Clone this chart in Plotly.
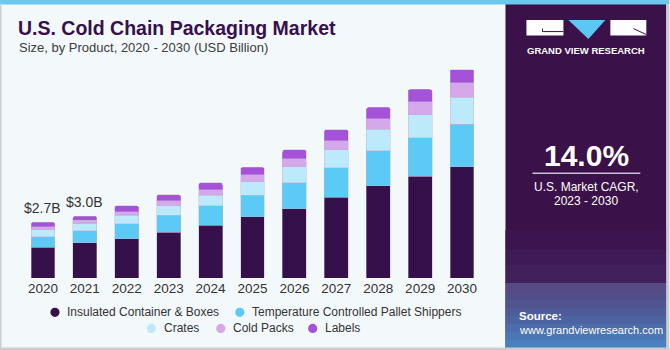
import plotly.graph_objects as go

# ---------------- data ----------------
years = ["2020", "2021", "2022", "2023", "2024", "2025", "2026", "2027", "2028", "2029", "2030"]
insulated = [1.50, 1.70, 1.91, 2.22, 2.56, 2.98, 3.36, 3.92, 4.47, 4.94, 5.40]
pallet = [0.51, 0.58, 0.73, 0.81, 0.94, 1.02, 1.25, 1.42, 1.70, 1.86, 2.06]
crates = [0.32, 0.34, 0.39, 0.46, 0.50, 0.67, 0.78, 0.87, 1.03, 1.12, 1.31]
cold_packs = [0.15, 0.18, 0.19, 0.26, 0.28, 0.34, 0.40, 0.45, 0.52, 0.62, 0.68]
labels = [0.22, 0.20, 0.28, 0.28, 0.33, 0.35, 0.42, 0.53, 0.55, 0.60, 0.65]
series_names = ["Insulated Container & Boxes", "Temperature Controlled Pallet Shippers",
                "Crates", "Cold Packs", "Labels"]
label_years = ["2020", "2021"]
label_texts = ["&#36;2.7B", "&#36;3.0B"]
cagr_text = "14.0%"

# ---------------- style ----------------
colors = ["#36104A", "#5BCBF5", "#BDEAFA", "#D5A8EC", "#A551D8"]
BG = "#F3F8FB"
PANEL = "#3A1148"
W, H = 670, 350
ml, mr, mt, mb = 22, 186.5, 51.4, 72
pw, ph = W - ml - mr, H - mt - mb
FONT = "Liberation Sans, Arial, sans-serif"


def PX(x):
    return (x - ml) / pw


def PY(y):
    return (H - mb - y) / ph


fig = go.Figure()
series = [insulated, pallet, crates, cold_packs, labels]
for name, vals, col in zip(series_names, series, colors):
    fig.add_trace(go.Bar(
        x=years, y=vals, name=name, marker_color=col,
        marker_line=dict(color="rgba(190,180,210,0.55)", width=0.8),
        showlegend=False, hoverinfo="x+y+name",
    ))

totals = [sum(s[i] for s in series) for i in range(len(years))]

annotations = []
for yr, txt in zip(label_years, label_texts):
    i = years.index(yr)
    annotations.append(dict(x=i, y=totals[i], xref="x", yref="y", text=txt,
                            showarrow=False, yanchor="bottom", yshift=4,
                            font=dict(family=FONT, size=14, color="#333333")))

shapes = []
# right panel
shapes.append(dict(type="rect", xref="paper", yref="paper", x0=PX(506), x1=PX(667),
                   y0=PY(0), y1=PY(350), fillcolor=PANEL, line_width=0, layer="below"))
# panel bottom gradient
grad = [
    (230, 250, "#3B1450"), (250, 265, "#3E1A56"), (265, 283, "#42205C"),
    (283, 292, "#564A84"), (292, 300, "#524E8C"), (300, 308, "#505592"),
    (308, 316, "#4E5C9A"), (316, 324, "#4D64A2"), (324, 332, "#4C6DAB"),
    (332, 340, "#4B77B5"), (340, 348, "#4B80BE"),
]
for y0, y1, c in grad:
    shapes.append(dict(type="rect", xref="paper", yref="paper", x0=PX(506), x1=PX(667),
                       y0=PY(y1), y1=PY(y0), fillcolor=c, line_width=0, layer="below"))
# top stripe
shapes.append(dict(type="rect", xref="paper", yref="paper", x0=PX(0), x1=PX(670),
                   y0=PY(5), y1=PY(0), fillcolor="#6CC8EE", line_width=0, layer="below"))
# frame borders
shapes.append(dict(type="rect", xref="paper", yref="paper", x0=PX(0), x1=PX(1.5),
                   y0=PY(350), y1=PY(5), fillcolor="#C9CDD2", line_width=0, layer="below"))
shapes.append(dict(type="rect", xref="paper", yref="paper", x0=PX(667), x1=PX(670),
                   y0=PY(350), y1=PY(5), fillcolor="#C9CDD2", line_width=0, layer="below"))
shapes.append(dict(type="rect", xref="paper", yref="paper", x0=PX(0), x1=PX(670),
                   y0=PY(350), y1=PY(347.5), fillcolor="#C9CDD2", line_width=0, layer="below"))
# logo
shapes.append(dict(type="rect", xref="paper", yref="paper", x0=PX(527), x1=PX(564),
                   y0=PY(36), y1=PY(20.5), fillcolor="white", line_width=0))
shapes.append(dict(type="path", xref="paper", yref="paper",
                   path=f"M {PX(543)} {PY(29)} L {PX(543)} {PY(32)} L {PX(564)} {PY(32)}",
                   line=dict(color=PANEL, width=1)))
shapes.append(dict(type="path", xref="paper", yref="paper",
                   path=f"M {PX(569)} {PY(20.5)} L {PX(606)} {PY(20.5)} L {PX(589)} {PY(39.5)} Z",
                   fillcolor="#5BC8F3", line_width=0))
shapes.append(dict(type="rect", xref="paper", yref="paper", x0=PX(611), x1=PX(647),
                   y0=PY(36), y1=PY(20.5), fillcolor="white", line_width=0))
shapes.append(dict(type="path", xref="paper", yref="paper",
                   path=f"M {PX(634)} {PY(29)} L {PX(647)} {PY(35)}",
                   line=dict(color=PANEL, width=1)))
# CAGR divider line
shapes.append(dict(type="line", xref="paper", yref="paper", x0=PX(533), x1=PX(641),
                   y0=PY(173.5), y1=PY(173.5), line=dict(color="#C9C0D8", width=1.5)))

# manual legend
leg_items = [
    (0, 55, 312.3), (1, 240, 312.3),
    (2, 151.5, 328.3), (3, 221, 328.3), (4, 313, 328.3),
]
for idx, cx, cy in leg_items:
    r = 4.6
    shapes.append(dict(type="circle", xref="paper", yref="paper",
                       x0=PX(cx - r), x1=PX(cx + r), y0=PY(cy + r), y1=PY(cy - r),
                       fillcolor=colors[idx], line_width=0))
    annotations.append(dict(x=PX(cx + 10.5), y=PY(cy), xref="paper", yref="paper",
                            text=series_names[idx], showarrow=False, xanchor="left",
                            yanchor="middle",
                            font=dict(family=FONT, size=12, color="#333333")))

# titles
annotations.append(dict(x=PX(16), y=PY(28.5), xref="paper", yref="paper",
                        text="<b>U.S. Cold Chain Packaging Market</b>", showarrow=False,
                        xanchor="left", yanchor="middle",
                        font=dict(family=FONT, size=19.5, color="#36104A")))
annotations.append(dict(x=PX(16.5), y=PY(48), xref="paper", yref="paper",
                        text="Size, by Product, 2020 - 2030 (USD Billion)", showarrow=False,
                        xanchor="left", yanchor="middle",
                        font=dict(family=FONT, size=13, color="#3C3C3C")))
# panel texts
annotations.append(dict(x=PX(587), y=PY(51), xref="paper", yref="paper",
                        text="<b>GRAND VIEW RESEARCH</b>", showarrow=False,
                        xanchor="center", yanchor="middle",
                        font=dict(family=FONT, size=9.5, color="white")))
annotations.append(dict(x=PX(587), y=PY(155.5), xref="paper", yref="paper",
                        text=f"<b>{cagr_text}</b>", showarrow=False,
                        xanchor="center", yanchor="middle",
                        font=dict(family=FONT, size=30, color="white")))
annotations.append(dict(x=PX(587), y=PY(187), xref="paper", yref="paper",
                        text="U.S. Market CAGR,", showarrow=False,
                        xanchor="center", yanchor="middle",
                        font=dict(family=FONT, size=12, color="white")))
annotations.append(dict(x=PX(587), y=PY(201), xref="paper", yref="paper",
                        text="2023 - 2030", showarrow=False,
                        xanchor="center", yanchor="middle",
                        font=dict(family=FONT, size=12, color="white")))
annotations.append(dict(x=PX(518), y=PY(316), xref="paper", yref="paper",
                        text="<b>Source:</b>", showarrow=False,
                        xanchor="left", yanchor="middle",
                        font=dict(family=FONT, size=11.5, color="white")))
annotations.append(dict(x=PX(518), y=PY(329.5), xref="paper", yref="paper",
                        text="www.grandviewresearch.com", showarrow=False,
                        xanchor="left", yanchor="middle",
                        font=dict(family=FONT, size=11, color="white")))

fig.update_layout(
    barmode="stack", bargap=0.43, barcornerradius=2,
    width=W, height=H, autosize=False,
    margin=dict(l=ml, r=mr, t=mt, b=mb, pad=0),
    paper_bgcolor=BG, plot_bgcolor=BG,
    showlegend=False,
    shapes=shapes, annotations=annotations,
    xaxis=dict(type="category", range=[-0.5, 10.5], showgrid=False, zeroline=False,
               showline=False, ticks="", ticklen=0,
               tickfont=dict(family=FONT, size=13.5, color="#333333")),
    yaxis=dict(range=[0, 11], visible=False, showgrid=False, zeroline=False),
    font=dict(family=FONT),
)

fig.write_html("out.html")
